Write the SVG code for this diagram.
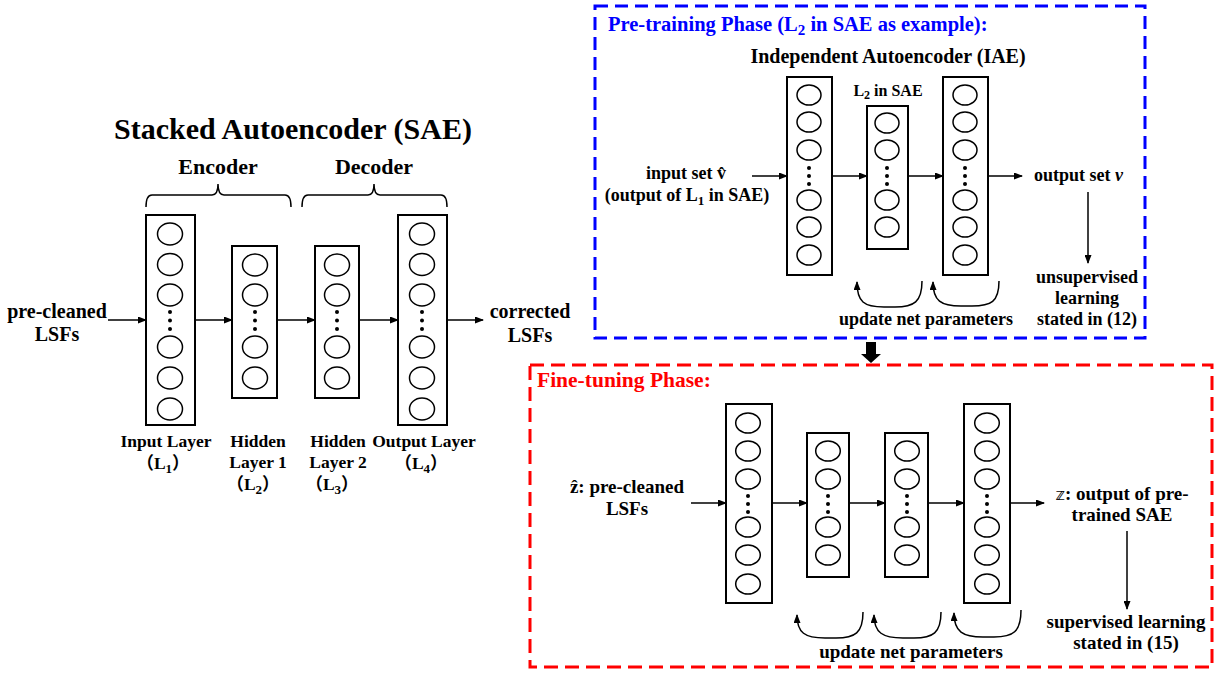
<svg xmlns="http://www.w3.org/2000/svg" width="1228" height="675" viewBox="0 0 1228 675">
<style>
text{font-family:"Liberation Serif","Times New Roman",serif;font-weight:bold;fill:#000}
.c{text-anchor:middle}
.box{fill:#fff;stroke:#000;stroke-width:2}
.n{fill:#fff;stroke:#000;stroke-width:1.5}
.dot{fill:#000}
.ln{fill:none;stroke:#000;stroke-width:1.5}
.cj{font-family:"Liberation Serif","Noto Sans CJK SC",serif}
</style>
<defs>
<marker id="ah" markerUnits="userSpaceOnUse" markerWidth="9" markerHeight="7" refX="8" refY="3.5" orient="auto">
<path d="M0,0 L9,3.5 L0,7 z" fill="#000"/>
</marker>
</defs>
<rect width="1228" height="675" fill="#fff"/>

<!-- Left: SAE -->
<g id="sae-title">
<text class="c" x="293" y="139" font-size="30">Stacked Autoencoder (SAE)</text>
<text class="c" x="218" y="174" font-size="22">Encoder</text>
<text class="c" x="374" y="174" font-size="22">Decoder</text>
<path class="ln" d="M146,207 Q146,195 152,195 L212,195 Q218,195 218,184 Q218,195 224,195 L285,195 Q291,195 291,207"/>
<path class="ln" d="M302,207 Q302,195 308,195 L368,195 Q374,195 374,184 Q374,195 380,195 L441,195 Q447,195 447,207"/>
</g>

<g id="sae-L1">
<rect class="box" x="146" y="215" width="49" height="210"/>
<ellipse class="n" cx="170" cy="234" rx="12.5" ry="11"/>
<ellipse class="n" cx="170" cy="264.5" rx="12.5" ry="11"/>
<ellipse class="n" cx="170" cy="295" rx="12.5" ry="11"/>
<circle class="dot" cx="170" cy="312" r="2"/><circle class="dot" cx="170" cy="320.5" r="2"/><circle class="dot" cx="170" cy="329" r="2"/>
<ellipse class="n" cx="170" cy="347" rx="12.5" ry="11"/>
<ellipse class="n" cx="170" cy="378" rx="12.5" ry="11"/>
<ellipse class="n" cx="170" cy="409" rx="12.5" ry="11"/>
<text class="c" x="166" y="447" font-size="17.5">Input Layer</text>
<text class="c cj" x="163" y="469" font-size="17.5">（L<tspan font-size="13" dy="4">1</tspan><tspan dy="-4">）</tspan></text>
</g>

<g id="sae-L2">
<rect class="box" x="232" y="246" width="45" height="152"/>
<ellipse class="n" cx="255" cy="265" rx="12.5" ry="11"/>
<ellipse class="n" cx="255" cy="295" rx="12.5" ry="11"/>
<circle class="dot" cx="255" cy="312" r="2"/><circle class="dot" cx="255" cy="320.5" r="2"/><circle class="dot" cx="255" cy="329" r="2"/>
<ellipse class="n" cx="255" cy="347" rx="12.5" ry="11"/>
<ellipse class="n" cx="255" cy="378" rx="12.5" ry="11"/>
<text class="c" x="258" y="447" font-size="17.5">Hidden</text>
<text class="c" x="258" y="468" font-size="17.5">Layer 1</text>
<text class="c cj" x="253" y="490" font-size="17.5">（L<tspan font-size="13" dy="4">2</tspan><tspan dy="-4">）</tspan></text>
</g>

<g id="sae-L3">
<rect class="box" x="315" y="246" width="44" height="152"/>
<ellipse class="n" cx="337" cy="265" rx="12.5" ry="11"/>
<ellipse class="n" cx="337" cy="295" rx="12.5" ry="11"/>
<circle class="dot" cx="337" cy="312" r="2"/><circle class="dot" cx="337" cy="320.5" r="2"/><circle class="dot" cx="337" cy="329" r="2"/>
<ellipse class="n" cx="337" cy="347" rx="12.5" ry="11"/>
<ellipse class="n" cx="337" cy="378" rx="12.5" ry="11"/>
<text class="c" x="338" y="447" font-size="17.5">Hidden</text>
<text class="c" x="338" y="468" font-size="17.5">Layer 2</text>
<text class="c cj" x="332" y="490" font-size="17.5">（L<tspan font-size="13" dy="4">3</tspan><tspan dy="-4">）</tspan></text>
</g>

<g id="sae-L4">
<rect class="box" x="398" y="215" width="49" height="210"/>
<ellipse class="n" cx="422" cy="234" rx="12.5" ry="11"/>
<ellipse class="n" cx="422" cy="264.5" rx="12.5" ry="11"/>
<ellipse class="n" cx="422" cy="295" rx="12.5" ry="11"/>
<circle class="dot" cx="422" cy="312" r="2"/><circle class="dot" cx="422" cy="320.5" r="2"/><circle class="dot" cx="422" cy="329" r="2"/>
<ellipse class="n" cx="422" cy="347" rx="12.5" ry="11"/>
<ellipse class="n" cx="422" cy="378" rx="12.5" ry="11"/>
<ellipse class="n" cx="422" cy="409" rx="12.5" ry="11"/>
<text class="c" x="424" y="447" font-size="17.5">Output Layer</text>
<text class="c cj" x="421" y="469" font-size="17.5">（L<tspan font-size="13" dy="4">4</tspan><tspan dy="-4">）</tspan></text>
</g>

<g id="sae-in">
<text class="c" x="57" y="318" font-size="20">pre-cleaned</text>
<text class="c" x="57" y="341" font-size="20">LSFs</text>
</g>
<g id="sae-out">
<text class="c" x="530" y="318" font-size="20">corrected</text>
<text class="c" x="530" y="342" font-size="20">LSFs</text>
</g>

<!-- Pre-training phase -->
<g id="pretrain-frame">
<rect x="595" y="6" width="550" height="332" fill="none" stroke="#0000ff" stroke-width="3" stroke-dasharray="13 7"/>
<text x="608" y="31" font-size="20.5" style="fill:#0000ff">Pre-training Phase (L<tspan font-size="15" dy="4">2</tspan><tspan dy="-4"> in SAE as example):</tspan></text>
<text class="c" x="888" y="63" font-size="20">Independent Autoencoder (IAE)</text>
</g>

<g id="iae-in-layer">
<rect class="box" x="787" y="77" width="45" height="198"/>
<ellipse class="n" cx="809" cy="95" rx="12" ry="10"/>
<ellipse class="n" cx="809" cy="122" rx="12" ry="10"/>
<ellipse class="n" cx="809" cy="150" rx="12" ry="10"/>
<circle class="dot" cx="809" cy="168" r="2"/><circle class="dot" cx="809" cy="176" r="2"/><circle class="dot" cx="809" cy="184" r="2"/>
<ellipse class="n" cx="809" cy="200" rx="12" ry="10"/>
<ellipse class="n" cx="809" cy="227" rx="12" ry="10"/>
<ellipse class="n" cx="809" cy="255" rx="12" ry="10"/>
</g>

<g id="iae-hidden">
<text class="c" x="888" y="96" font-size="16">L<tspan font-size="12" dy="3">2</tspan><tspan dy="-3"> in SAE</tspan></text>
<rect class="box" x="867" y="106" width="41" height="143"/>
<ellipse class="n" cx="887" cy="123" rx="12" ry="10"/>
<ellipse class="n" cx="887" cy="150" rx="12" ry="10"/>
<circle class="dot" cx="887" cy="168" r="2"/><circle class="dot" cx="887" cy="176" r="2"/><circle class="dot" cx="887" cy="184" r="2"/>
<ellipse class="n" cx="887" cy="200" rx="12" ry="10"/>
<ellipse class="n" cx="887" cy="227" rx="12" ry="10"/>
</g>

<g id="iae-out-layer">
<rect class="box" x="943" y="77" width="45" height="198"/>
<ellipse class="n" cx="965" cy="95" rx="12" ry="10"/>
<ellipse class="n" cx="965" cy="122" rx="12" ry="10"/>
<ellipse class="n" cx="965" cy="150" rx="12" ry="10"/>
<circle class="dot" cx="965" cy="168" r="2"/><circle class="dot" cx="965" cy="176" r="2"/><circle class="dot" cx="965" cy="184" r="2"/>
<ellipse class="n" cx="965" cy="200" rx="12" ry="10"/>
<ellipse class="n" cx="965" cy="227" rx="12" ry="10"/>
<ellipse class="n" cx="965" cy="255" rx="12" ry="10"/>
</g>

<g id="iae-input">
<text class="c" x="686" y="179" font-size="18">input set v̂</text>
<text class="c" x="687" y="201" font-size="18">(output of L<tspan font-size="13" dy="4">1</tspan><tspan dy="-4"> in SAE)</tspan></text>
</g>
<g id="iae-output">
<text x="1034" y="181" font-size="18">output set <tspan font-style="italic">v</tspan></text>
</g>
<g id="iae-unsup">
<text class="c" x="1087" y="283" font-size="18">unsupervised</text>
<text class="c" x="1087" y="304" font-size="18">learning</text>
<text class="c" x="1087" y="325" font-size="18">stated in (12)</text>
</g>
<g id="iae-update">
<text class="c" x="926" y="325" font-size="18">update net parameters</text>
</g>

<!-- Fine-tuning phase -->
<g id="finetune-frame">
<rect x="530" y="365" width="682" height="302" fill="none" stroke="#ff0000" stroke-width="3" stroke-dasharray="14 7"/>
<text x="537" y="387" font-size="21.5" style="fill:#ff0000">Fine-tuning Phase:</text>
</g>

<g id="ft-L1">
<rect class="box" x="726" y="404" width="46" height="199"/>
<ellipse class="n" cx="748" cy="423" rx="12.3" ry="10"/>
<ellipse class="n" cx="748" cy="451" rx="12.3" ry="10"/>
<ellipse class="n" cx="748" cy="479" rx="12.3" ry="10"/>
<circle class="dot" cx="748" cy="496" r="2"/><circle class="dot" cx="748" cy="504" r="2"/><circle class="dot" cx="748" cy="512" r="2"/>
<ellipse class="n" cx="748" cy="527" rx="12.3" ry="10"/>
<ellipse class="n" cx="748" cy="555" rx="12.3" ry="10"/>
<ellipse class="n" cx="748" cy="584" rx="12.3" ry="10"/>
</g>
<g id="ft-L2">
<rect class="box" x="807" y="433" width="42" height="144"/>
<ellipse class="n" cx="828" cy="451" rx="12.3" ry="10"/>
<ellipse class="n" cx="828" cy="479" rx="12.3" ry="10"/>
<circle class="dot" cx="828" cy="496" r="2"/><circle class="dot" cx="828" cy="504" r="2"/><circle class="dot" cx="828" cy="512" r="2"/>
<ellipse class="n" cx="828" cy="527" rx="12.3" ry="10"/>
<ellipse class="n" cx="828" cy="555" rx="12.3" ry="10"/>
</g>
<g id="ft-L3">
<rect class="box" x="885" y="433" width="43" height="144"/>
<ellipse class="n" cx="907" cy="451" rx="12.3" ry="10"/>
<ellipse class="n" cx="907" cy="479" rx="12.3" ry="10"/>
<circle class="dot" cx="907" cy="496" r="2"/><circle class="dot" cx="907" cy="504" r="2"/><circle class="dot" cx="907" cy="512" r="2"/>
<ellipse class="n" cx="907" cy="527" rx="12.3" ry="10"/>
<ellipse class="n" cx="907" cy="555" rx="12.3" ry="10"/>
</g>
<g id="ft-L4">
<rect class="box" x="964" y="404" width="46" height="199"/>
<ellipse class="n" cx="987" cy="423" rx="12.3" ry="10"/>
<ellipse class="n" cx="987" cy="451" rx="12.3" ry="10"/>
<ellipse class="n" cx="987" cy="479" rx="12.3" ry="10"/>
<circle class="dot" cx="987" cy="496" r="2"/><circle class="dot" cx="987" cy="504" r="2"/><circle class="dot" cx="987" cy="512" r="2"/>
<ellipse class="n" cx="987" cy="527" rx="12.3" ry="10"/>
<ellipse class="n" cx="987" cy="555" rx="12.3" ry="10"/>
<ellipse class="n" cx="987" cy="584" rx="12.3" ry="10"/>
</g>

<g id="ft-input">
<text class="c" x="627" y="493" font-size="19">ẑ: pre-cleaned</text>
<text class="c" x="627" y="515" font-size="19">LSFs</text>
</g>
<g id="ft-output">
<text class="c" x="1122" y="500" font-size="19"><tspan font-family="DejaVu Sans" font-weight="normal" font-size="16">𝕫</tspan>: output of pre-</text>
<text class="c" x="1122" y="521" font-size="19">trained SAE</text>
</g>
<g id="ft-sup">
<text class="c" x="1126" y="628" font-size="19">supervised learning</text>
<text class="c" x="1126" y="649" font-size="19">stated in (15)</text>
</g>
<g id="ft-update">
<text class="c" x="911" y="658" font-size="19">update net parameters</text>
</g>

<!-- Connectors -->
<g id="connectors">
<line class="ln" x1="108" y1="320" x2="146" y2="320" marker-end="url(#ah)"/>
<line class="ln" x1="195" y1="320" x2="232" y2="320" marker-end="url(#ah)"/>
<line class="ln" x1="277" y1="320" x2="315" y2="320" marker-end="url(#ah)"/>
<line class="ln" x1="359" y1="320" x2="398" y2="320" marker-end="url(#ah)"/>
<line class="ln" x1="447" y1="320" x2="483" y2="320" marker-end="url(#ah)"/>

<line class="ln" x1="752" y1="176" x2="787" y2="176" marker-end="url(#ah)"/>
<line class="ln" x1="832" y1="176" x2="867" y2="176" marker-end="url(#ah)"/>
<line class="ln" x1="908" y1="176" x2="943" y2="176" marker-end="url(#ah)"/>
<line class="ln" x1="988" y1="176" x2="1022" y2="176" marker-end="url(#ah)"/>
<line class="ln" x1="1088" y1="192" x2="1088" y2="263" marker-end="url(#ah)"/>
<path class="ln" d="M922,281 C922,302 914,307 895,307 L884,307 C864,307 857,302 857,282" marker-end="url(#ah)"/>
<path class="ln" d="M999,281 C999,302 991,306 972,306 L961,306 C941,306 933,301 933,282" marker-end="url(#ah)"/>

<polygon points="866,342 876,342 876,354 881,354 871,363 861,354 866,354" fill="#000"/>

<line class="ln" x1="691" y1="503" x2="726" y2="503" marker-end="url(#ah)"/>
<line class="ln" x1="772" y1="503" x2="807" y2="503" marker-end="url(#ah)"/>
<line class="ln" x1="849" y1="503" x2="885" y2="503" marker-end="url(#ah)"/>
<line class="ln" x1="928" y1="503" x2="964" y2="503" marker-end="url(#ah)"/>
<line class="ln" x1="1010" y1="503" x2="1044" y2="503" marker-end="url(#ah)"/>
<line class="ln" x1="1127" y1="531" x2="1127" y2="609" marker-end="url(#ah)"/>
<path class="ln" d="M863,612 C863,633 855,638 836,638 L825,638 C805,638 797,633 797,615" marker-end="url(#ah)"/>
<path class="ln" d="M941,612 C941,633 933,638 914,638 L903,638 C883,638 874,633 874,615" marker-end="url(#ah)"/>
<path class="ln" d="M1021,610 C1021,632 1013,637 994,637 L983,637 C963,637 954,632 954,613" marker-end="url(#ah)"/>
</g>
</svg>
